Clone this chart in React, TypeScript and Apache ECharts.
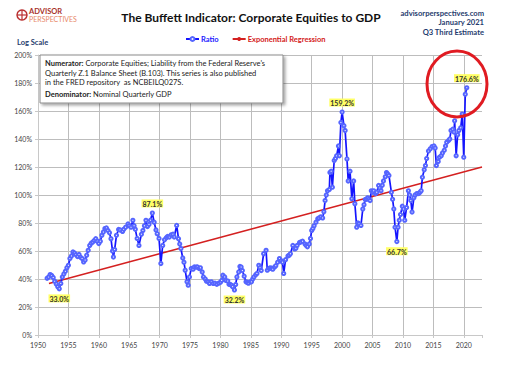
import React, { useEffect, useRef } from 'react';
import * as echarts from 'echarts';

const years = [
  1951.5, 1951.75, 1952.0, 1952.25, 1952.5, 1952.75, 1953.0, 1953.25, 1953.5, 1953.75,
  1954.0, 1954.25, 1954.5, 1954.75, 1955.0, 1955.25, 1955.5, 1955.75, 1956.0, 1956.25,
  1956.5, 1956.75, 1957.0, 1957.25, 1957.5, 1957.75, 1958.0, 1958.25, 1958.5, 1958.75,
  1959.0, 1959.25, 1959.5, 1959.75, 1960.0, 1960.25, 1960.5, 1960.75, 1961.0, 1961.25,
  1961.5, 1961.75, 1962.0, 1962.25, 1962.4, 1962.6, 1962.9, 1963.25, 1963.5, 1963.9,
  1964.1, 1964.4, 1964.8, 1965.0, 1965.3, 1965.6, 1965.8, 1966.0, 1966.3, 1966.6,
  1967.0, 1967.25, 1967.5, 1967.75, 1968.0, 1968.25, 1968.5, 1968.8, 1969.1, 1969.4,
  1969.6, 1969.9, 1970.2, 1970.5, 1970.8, 1971.1, 1971.3, 1971.6, 1971.9, 1972.2,
  1972.4, 1972.8, 1973.1, 1973.3, 1973.5, 1973.8, 1974.0, 1974.2, 1974.5, 1974.7,
  1974.9, 1975.2, 1975.5, 1975.7, 1976.0, 1976.2, 1976.5, 1976.7, 1977.0, 1977.2,
  1977.5, 1977.7, 1978.0, 1978.2, 1978.5, 1978.8, 1979.1, 1979.4, 1979.7, 1980.0,
  1980.2, 1980.4, 1980.7, 1980.9, 1981.2, 1981.4, 1981.6, 1981.8, 1982.0, 1982.3,
  1982.5, 1982.7, 1983.0, 1983.2, 1983.4, 1983.6, 1983.9, 1984.2, 1984.4, 1984.6,
  1984.9, 1985.1, 1985.3, 1985.5, 1985.8, 1986.0, 1986.3, 1986.5, 1986.7, 1987.1,
  1987.5, 1987.7, 1988.0, 1988.2, 1988.4, 1988.6, 1988.9, 1989.1, 1989.4, 1989.7,
  1990.0, 1990.2, 1990.4, 1990.7, 1991.1, 1991.3, 1991.5, 1991.9, 1992.2, 1992.4,
  1992.6, 1993.0, 1993.2, 1993.5, 1993.9, 1994.1, 1994.3, 1994.6, 1994.8, 1995.0,
  1995.2, 1995.4, 1995.7, 1996.0, 1996.2, 1996.5, 1996.8, 1997.0, 1997.2, 1997.4,
  1997.6, 1997.9, 1998.0, 1998.2, 1998.4, 1998.7, 1998.9, 1999.1, 1999.4, 1999.55,
  1999.8, 2000.0, 2000.3, 2000.5, 2000.8, 2001.0, 2001.3, 2001.6, 2001.9, 2002.1,
  2002.4, 2002.6, 2002.8, 2003.1, 2003.4, 2003.6, 2003.8, 2004.0, 2004.2, 2004.4,
  2004.6, 2004.8, 2005.0, 2005.2, 2005.5, 2005.7, 2006.0, 2006.2, 2006.4, 2006.6,
  2006.8, 2007.1, 2007.3, 2007.5, 2007.7, 2008.1, 2008.3, 2008.5, 2008.7, 2009.0,
  2009.2, 2009.4, 2009.6, 2009.9, 2010.1, 2010.3, 2010.6, 2010.9, 2011.1, 2011.3,
  2011.5, 2011.8, 2012.0, 2012.3, 2012.6, 2012.8, 2013.0, 2013.2, 2013.5, 2013.7,
  2013.9, 2014.2, 2014.5, 2014.8, 2015.1, 2015.3, 2015.5, 2015.8, 2016.0, 2016.3,
  2016.5, 2016.8, 2017.0, 2017.2, 2017.5, 2017.7, 2017.9, 2018.2, 2018.4, 2018.5,
  2018.75, 2019.0, 2019.2, 2019.5, 2019.75, 2020.0, 2020.25, 2020.5,
];

const ratio = [
  40.5, 41.5, 43.2, 42.5, 41.0, 38.4, 36.5, 34.5, 33.0, 36.8,
  41.5, 43.5, 45.5, 48.0, 49.8, 54.6, 56.5, 59.3, 58.5, 57.4,
  56.0, 57.5, 55.5, 54.6, 52.2, 53.5, 57.0, 60.5, 64.0, 65.5,
  66.4, 67.5, 68.8, 67.0, 65.3, 67.0, 71.2, 73.5, 76.0, 76.5,
  74.7, 73.0, 68.8, 60.0, 55.7, 61.0, 71.2, 75.4, 75.0, 74.0,
  75.5, 77.0, 79.3, 78.0, 77.0, 81.9, 78.0, 75.5, 69.0, 64.0,
  72.0, 74.7, 78.0, 81.9, 77.5, 79.0, 82.0, 87.1, 80.6, 75.0,
  72.4, 69.0, 51.0, 64.0, 68.0, 69.5, 70.4, 70.0, 71.6, 72.0,
  70.0, 78.3, 68.8, 65.0, 61.7, 55.0, 52.0, 46.3, 38.0, 35.6,
  41.5, 47.5, 47.0, 48.6, 48.5, 48.6, 47.5, 48.0, 45.0, 41.5,
  40.0, 38.4, 38.0, 36.8, 38.0, 36.8, 37.0, 36.2, 37.0, 37.6,
  39.0, 42.7, 41.5, 39.0, 38.5, 36.2, 36.0, 35.6, 34.5, 32.2,
  36.0, 41.5, 45.0, 49.0, 48.5, 46.0, 42.0, 38.0, 37.5, 37.0,
  38.0, 38.0, 40.0, 41.5, 43.0, 44.0, 49.8, 48.0, 46.0, 58.1,
  60.5, 46.3, 47.5, 48.0, 47.5, 47.0, 48.5, 49.5, 52.0, 54.6,
  53.0, 52.0, 44.0, 53.8, 56.5, 57.0, 58.0, 64.0, 61.5, 62.0,
  64.0, 66.0, 66.5, 67.0, 65.0, 64.0, 63.0, 65.0, 69.0, 74.7,
  76.0, 78.0, 80.6, 83.0, 83.6, 84.4, 83.6, 88.0, 96.0, 100.0,
  103.0, 104.0, 116.0, 117.0, 105.6, 124.6, 126.0, 128.0, 135.0, 128.0,
  151.8, 159.2, 149.5, 146.0, 125.8, 110.0, 117.0, 97.3, 110.0, 93.7,
  77.0, 80.0, 79.5, 78.3, 90.0, 93.0, 96.7, 97.0, 98.0, 97.0,
  96.0, 103.0, 102.0, 103.0, 101.0, 102.0, 106.8, 105.0, 103.0, 107.0,
  110.0, 113.0, 116.0, 115.0, 114.0, 102.0, 97.0, 90.0, 77.0, 66.7,
  77.0, 82.0, 86.0, 92.0, 90.0, 82.0, 91.0, 103.0, 100.0, 96.0,
  87.8, 98.0, 100.0, 101.0, 101.0, 102.0, 103.0, 112.7, 118.0, 121.0,
  126.0, 131.5, 133.0, 134.6, 135.0, 133.5, 121.0, 124.0, 127.0, 128.0,
  130.0, 132.0, 135.0, 137.6, 139.0, 140.0, 146.0, 147.0, 145.0, 153.0,
  128.0, 143.0, 146.0, 148.0, 157.8, 127.0, 172.0, 176.6,
];

const regressionYears = [1951.8, 2023];
const regressionValues = [36.8, 120];

const annotations = [
  { year: 1953.5, text: '33.0%', below: true },
  { year: 1968.8, text: '87.1%', below: false },
  { year: 1982.3, text: '32.2%', below: true },
  { year: 2000.0, text: '159.2%', below: false },
  { year: 2009.0, text: '66.7%', below: true },
  { year: 2020.5, text: '176.6%', below: false },
];

const xMin = 1950;
const xMax = 2023;
const xInterval = 5;
const yMin = 0;
const yMax = 200;
const yInterval = 20;

const FONT = 'Lato, "Open Sans", sans-serif';
const NAVY = '#1f3c6e';

export default function App() {
  const ref = useRef<HTMLDivElement>(null);

  useEffect(() => {
    if (!ref.current) return;
    const chart = echarts.init(ref.current, null, { renderer: 'svg' });

    const ratioData = years.map((y, i) => {
      const ann = annotations.find((a) => a.year === y);
      if (!ann) return [y, ratio[i]];
      return {
        value: [y, ratio[i]],
        label: {
          show: true,
          formatter: ann.text,
          position: ann.below ? 'bottom' : 'top',
          distance: 3,
          backgroundColor: '#ffff66',
          color: '#333',
          fontWeight: 'bold',
          fontSize: 7,
          fontFamily: FONT,
          padding: [1, 1, 0, 1],
        },
      };
    });

    const regData = regressionYears.map((y, i) => [y, regressionValues[i]]);

    chart.setOption({
      animation: false,
      backgroundColor: '#fff',
      textStyle: { fontFamily: FONT },
      grid: { left: 38, right: 29, top: 55, bottom: 32, containLabel: false },
      legend: {
        left: 180,
        top: 30,
        itemWidth: 13,
        itemHeight: 5,
        itemGap: 13,
        textStyle: { fontSize: 7.5, fontWeight: 'bold', fontFamily: FONT, padding: [0, 0, 0, -3] },
        data: [
          { name: 'Ratio', textStyle: { color: '#1a1aff' } },
          { name: 'Exponential Regression', textStyle: { color: '#d42020' } },
        ],
      },
      xAxis: {
        type: 'value',
        min: xMin,
        max: xMax,
        interval: xInterval,
        axisLine: { show: true, lineStyle: { color: '#c8c8c8', width: 1 } },
        axisTick: { show: true, length: 3, lineStyle: { color: '#c8c8c8' } },
        axisLabel: {
          fontSize: 7,
          color: '#444',
          margin: 6,
          fontFamily: FONT,
          formatter: (v: number) => (v % xInterval === 0 ? String(v) : ''),
        },
        splitLine: { show: true, showMaxLine: false, lineStyle: { color: '#bdbdbd', width: 1 } },
      },
      yAxis: {
        type: 'value',
        min: yMin,
        max: yMax,
        interval: yInterval,
        axisLine: { show: true, lineStyle: { color: '#c8c8c8', width: 1 } },
        axisTick: { show: true, length: 3, lineStyle: { color: '#c8c8c8' } },
        axisLabel: {
          fontSize: 7,
          color: '#444',
          margin: 6,
          fontFamily: FONT,
          formatter: '{value}%',
        },
        splitLine: { show: true, lineStyle: { color: '#bdbdbd', width: 1 } },
      },
      series: [
        {
          name: 'Ratio',
          type: 'line',
          data: ratioData,
          symbol: 'emptyCircle',
          symbolSize: 3.2,
          showAllSymbol: true,
          lineStyle: { color: '#1414ff', width: 1.7 },
          itemStyle: { color: '#5565ff', borderWidth: 0.7 },
          z: 3,
        },
        {
          name: 'Exponential Regression',
          type: 'line',
          data: regData,
          symbol: 'none',
          lineStyle: { color: '#d42020', width: 1.5 },
          itemStyle: { color: '#d42020' },
          z: 2,
        },
      ],
      graphic: [
        // logo
        {
          type: 'circle',
          shape: { cx: 22, cy: 15, r: 5 },
          style: { fill: '#fff', stroke: '#b33', lineWidth: 1.5 },
        },
        {
          type: 'line',
          shape: { x1: 17, y1: 15, x2: 27, y2: 15 },
          style: { stroke: '#b33', lineWidth: 1.2 },
        },
        {
          type: 'line',
          shape: { x1: 22, y1: 10, x2: 22, y2: 20 },
          style: { stroke: '#b33', lineWidth: 1.2 },
        },
        {
          type: 'text',
          x: 29,
          y: 7,
          style: { text: 'ADVISOR', fill: '#a8322a', font: `bold 7.5px ${FONT}` },
        },
        {
          type: 'text',
          x: 29,
          y: 15,
          style: { text: 'PERSPECTIVES', fill: '#e8886a', font: `7px ${FONT}` },
        },
        // title
        {
          type: 'text',
          x: 251,
          y: 11,
          style: {
            text: 'The Buffett Indicator: Corporate Equities to GDP',
            fill: '#111',
            font: `bold 12px ${FONT}`,
            align: 'center',
          },
        },
        // right header
        {
          type: 'text',
          x: 484,
          y: 8,
          style: {
            text: 'advisorperspectives.com\nJanuary 2021\nQ3 Third Estimate',
            fill: NAVY,
            font: `bold 7.6px ${FONT}`,
            align: 'right',
            lineHeight: 9.5,
          },
        },
        {
          type: 'text',
          x: 17,
          y: 38,
          style: { text: 'Log Scale', fill: NAVY, font: `bold 7.5px ${FONT}` },
        },
        // annotation box
        {
          type: 'rect',
          shape: { x: 40, y: 55, width: 243, height: 48 },
          style: {
            fill: '#fff',
            stroke: '#8a8a8a',
            lineWidth: 1,
            shadowBlur: 3,
            shadowOffsetX: 2,
            shadowOffsetY: 2,
            shadowColor: 'rgba(0,0,0,0.35)',
          },
          z: 100,
        },
        {
          type: 'text',
          x: 45,
          y: 59,
          z: 101,
          style: {
            text:
              "{b|Numerator:} Corporate Equities; Liability from the Federal Reserve's\nQuarterly Z.1 Balance Sheet (B.103). This series is also published\nin the FRED repository  as NCBEILQ027S.",
            fill: '#222',
            font: `7.5px ${FONT}`,
            lineHeight: 9.5,
            rich: {
              b: { fontWeight: 'bold', fontSize: 7.5, fontFamily: FONT, fill: '#222' },
            },
          },
        },
        {
          type: 'text',
          x: 45,
          y: 90,
          z: 101,
          style: {
            text: '{b|Denominator:} Nominal Quarterly GDP',
            fill: '#222',
            font: `7.5px ${FONT}`,
            rich: {
              b: { fontWeight: 'bold', fontSize: 7.5, fontFamily: FONT, fill: '#222' },
            },
          },
        },
        // red highlight circle
        {
          type: 'ellipse',
          shape: { cx: 457, cy: 84, rx: 30, ry: 33 },
          style: { fill: 'none', stroke: '#e01b22', lineWidth: 3 },
          z: 50,
        },
      ],
    });

    return () => chart.dispose();
  }, []);

  return (
    <div
      ref={ref}
      style={{ position: 'fixed', left: 0, top: 0, width: 511, height: 367, background: '#fff' }}
    />
  );
}
